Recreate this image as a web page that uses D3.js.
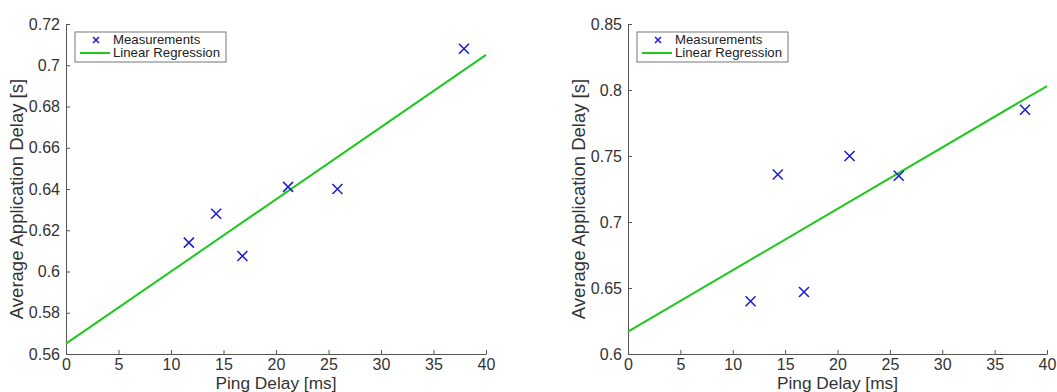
<!DOCTYPE html>
<html>
<head>
<meta charset="utf-8">
<script src="https://cdn.jsdelivr.net/npm/d3@7"></script>
<style>
  body { margin: 0; background: #fff; }
  svg { font-family: "Liberation Sans", Arial, sans-serif; }
</style>
</head>
<body>
<svg id="chart" width="1057" height="392"></svg>
<script>
// ping delays (ms), shared by both panels
const pingDelay = [11.7, 14.3, 16.8, 21.15, 25.85, 37.9];
// left panel measurements and regression line end points
const leftDelay = [0.614, 0.628, 0.6075, 0.641, 0.640, 0.708];
const leftFit = [[0, 0.565], [40, 0.705]];
const leftTicksY = [0.56, 0.58, 0.6, 0.62, 0.64, 0.66, 0.68, 0.7, 0.72];
// right panel
const rightDelay = [0.640, 0.736, 0.647, 0.750, 0.735, 0.785];
const rightFit = [[0, 0.617], [40, 0.803]];
const rightTicksY = [0.6, 0.65, 0.7, 0.75, 0.8, 0.85];
const ticksX = [0, 5, 10, 15, 20, 25, 30, 35, 40];
const legendLabels = ["Measurements", "Linear Regression"];

const svg = d3.select("#chart");
const axisColor = "#555";
const textColor = "#333";

function drawPanel(left, right, yDomain, yTicks, values, fit) {
  const top = 24, bottom = 354;
  const x = d3.scaleLinear().domain([0, 40]).range([left, right]);
  const y = d3.scaleLinear().domain(yDomain).range([bottom, top]);
  const g = svg.append("g");

  // x axis (ticks inside)
  const xa = g.append("g")
    .attr("transform", "translate(0," + bottom + ")")
    .call(d3.axisBottom(x).tickValues(ticksX).tickSizeInner(-4).tickSizeOuter(0));
  // y axis
  const ya = g.append("g")
    .attr("transform", "translate(" + left + ",0)")
    .call(d3.axisLeft(y).tickValues(yTicks).tickFormat(d => +d.toFixed(2)).tickSizeInner(-4).tickSizeOuter(0).tickPadding(6));

  [xa, ya].forEach(a => {
    a.select(".domain").attr("stroke", axisColor);
    a.selectAll(".tick line").attr("stroke", axisColor);
    a.selectAll(".tick text").attr("fill", textColor).style("font-size", "16px")
      .style("font-family", "'Liberation Sans', Arial, sans-serif");
  });
  xa.selectAll(".tick text").attr("dy", "0.71em").attr("y", 5);

  // axis labels
  g.append("text")
    .attr("x", (left + right) / 2).attr("y", 389)
    .attr("text-anchor", "middle").attr("fill", textColor)
    .style("font-size", "17.3px").text("Ping Delay [ms]");
  g.append("text")
    .attr("transform", "translate(" + (left - 43) + ",199) rotate(-90)")
    .attr("text-anchor", "middle").attr("fill", textColor)
    .style("font-size", "18.5px").text("Average Application Delay [s]");

  // regression line
  g.append("path")
    .datum(fit)
    .attr("d", d3.line().x(d => x(d[0])).y(d => y(d[1])))
    .attr("stroke", "#1ec81e").attr("stroke-width", 2).attr("fill", "none");

  // measurement markers
  const s = 5;
  g.selectAll(".pt")
    .data(values.map((v, i) => [pingDelay[i], v]))
    .enter().append("path")
    .attr("class", "pt")
    .attr("d", d => {
      const cx = x(d[0]), cy = y(d[1]);
      return "M" + (cx - s) + "," + (cy - s) + "L" + (cx + s) + "," + (cy + s) +
             "M" + (cx - s) + "," + (cy + s) + "L" + (cx + s) + "," + (cy - s);
    })
    .attr("stroke", "#2020d0").attr("stroke-width", 1.6).attr("fill", "none");

  // legend
  const lx = left + 9, ly = 32;
  const lg = g.append("g");
  lg.append("rect")
    .attr("x", lx).attr("y", ly).attr("width", 151).attr("height", 30)
    .attr("fill", "#fff").attr("stroke", "#777").attr("stroke-width", 1);
  const mx = lx + 21, my = ly + 8;
  lg.append("path")
    .attr("d", "M" + (mx - 3) + "," + (my - 3) + "L" + (mx + 3) + "," + (my + 3) +
               "M" + (mx - 3) + "," + (my + 3) + "L" + (mx + 3) + "," + (my - 3))
    .attr("stroke", "#2020d0").attr("stroke-width", 1.6);
  lg.append("line")
    .attr("x1", lx + 5).attr("x2", lx + 35).attr("y1", ly + 21).attr("y2", ly + 21)
    .attr("stroke", "#1ec81e").attr("stroke-width", 2);
  legendLabels.forEach((t, i) => {
    lg.append("text")
      .attr("x", lx + 38).attr("y", ly + 12 + i * 13)
      .attr("fill", "#222").style("font-size", "13.2px").text(t);
  });
}

drawPanel(66, 486, [0.56, 0.72], leftTicksY, leftDelay, leftFit);
drawPanel(628, 1047, [0.6, 0.85], rightTicksY, rightDelay, rightFit);
</script>
</body>
</html>
